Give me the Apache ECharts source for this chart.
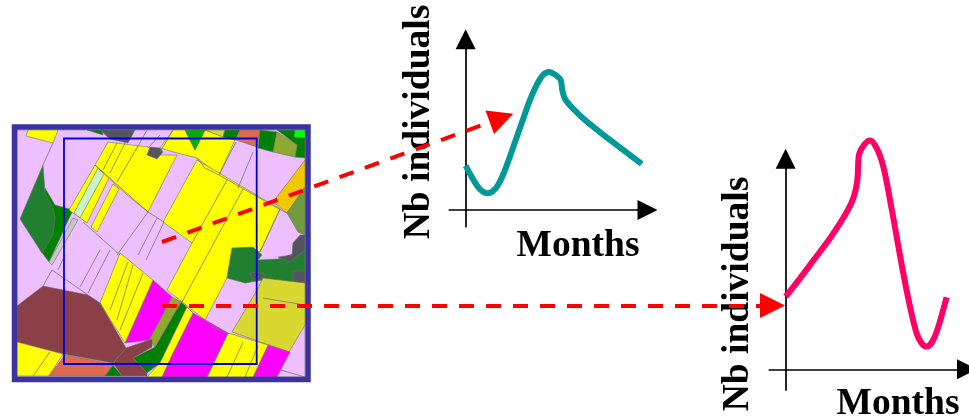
<!DOCTYPE html>
<html><head><meta charset="utf-8">
<style>html,body{margin:0;padding:0;background:#fff;overflow:hidden}#c{width:969px;height:419px}</style>
<script src="https://cdn.jsdelivr.net/npm/echarts@6/dist/echarts.min.js"></script>
</head><body><div id="c"></div>
<script>
// Chart curves: [month, individuals]
const tealCurve = [[0,26],[0.4,19.5],[0.84,13.3],[1.18,10.5],[1.44,9.8],[1.8,10.9],[2.18,15],[2.62,23.4],[3.18,37.1],[3.73,50.8],[4.29,64.5],[4.73,73.2],[5.18,79.3],[5.56,80.9],[5.96,79.3],[6.33,76.2],[6.44,70.3],[6.62,65.2],[7.07,60.2],[8.07,51.8],[9.4,42.6],[11.73,27]];
const pinkCurve = [[0,42.6],[0.96,53.3],[1.96,65],[2.96,76.8],[3.96,90.4],[4.51,100.2],[4.78,110.9],[4.89,125.6],[5.22,131.4],[5.62,134],[6.07,129.5],[6.51,118.8],[6.96,99.2],[7.4,77.7],[7.84,56.3],[8.29,36.7],[8.73,21.1],[9.07,15.2],[9.4,13.3],[9.78,16.2],[10.18,25],[10.73,42.2]];
const yLabel = 'Nb individuals';
const xLabel = 'Months';

// Land-use map parcels, in map coordinates
const parcels = [
 ['#eebfff',[[17,130],[305,130],[305,377],[17,377]]],
 ['#ffff00',[[28,130],[58,130],[53,143],[26,136]]],
 ['#008000',[[87,130],[102,130],[103,135]]],
 ['#55555f',[[100,130],[135,130],[128,143],[110,139]]],
 ['#008000',[[45,188],[55,205],[73,210],[49,262],[40,250]]],
 ['#217f30',[[43,165],[45,192],[53,208],[55,218],[53,235],[42,253],[20,219]]],
 ['#c8c8c8',[[73,218],[78,220],[52,265],[49,262]]],
 ['#ffff00',[[95,165],[109,178],[87,223],[69,210]]],
 ['#c8f5c8',[[98,168],[104,174],[80,218],[74,213]]],
 ['#ffff00',[[113,184],[119,189],[97,232],[91,227]]],
 ['#ffff00',[[95,165],[108,142],[148,147],[160,155],[177,155],[148,212],[127,195]]],
 ['#ffff00',[[173,130],[185,130],[195,150],[205,130],[225,137],[235,140],[219,175],[197,158],[177,153],[160,148]]],
 ['#55555f',[[150,147],[160,148],[163,152],[157,159],[147,155]]],
 ['#00b000',[[185,130],[205,130],[195,150]]],
 ['#d8d830',[[205,130],[225,130],[223,137]]],
 ['#008000',[[225,130],[240,130],[235,140],[223,137]]],
 ['#e06a50',[[240,130],[260,130],[257,147],[236,140]]],
 ['#008000',[[260,130],[277,132],[273,152],[258,148]]],
 ['#008000',[[277,130],[295,130],[295,137],[305,138],[305,158],[295,157],[297,145]]],
 ['#8fa830',[[277,132],[297,145],[295,157],[273,152]]],
 ['#00ff00',[[295,130],[305,130],[305,138],[294,137]]],
 ['#ffff00',[[197,160],[280,209],[260,252],[232,250],[227,278],[205,320],[167,290],[192,243],[163,222]]],
 ['#f0c800',[[305,160],[305,187],[287,213],[273,202]]],
 ['#6f9a40',[[305,187],[305,235],[298,232],[287,213]]],
 ['#217f30',[[232,248],[253,247],[262,255],[258,260],[278,259],[305,250],[305,283],[263,280],[245,283],[227,278]]],
 ['#55555f',[[300,235],[305,235],[305,250],[290,262],[278,257],[292,255],[293,243]]],
 ['#55555f',[[250,273],[257,272],[265,275],[260,280],[252,278]]],
 ['#55555f',[[293,271],[305,271],[305,283],[293,283]]],
 ['#d8d830',[[263,278],[305,283],[305,325],[289,352],[232,332],[257,290]]],
 ['#ff00ff',[[290,352],[268,345],[253,377],[277,377]]],
 ['#ffff00',[[228,333],[268,345],[253,377],[207,377]]],
 ['#ff00ff',[[193,313],[228,333],[207,377],[162,377],[172,355]]],
 ['#008000',[[181,302],[187,307],[160,363],[147,373],[133,358],[155,347]]],
 ['#ffff00',[[187,307],[193,313],[172,355],[162,377],[147,377],[160,363]]],
 ['#8fa830',[[172,297],[181,302],[155,347],[149,340]]],
 ['#ff00ff',[[153,280],[172,297],[149,340],[125,343]]],
 ['#ffff00',[[120,253],[153,280],[125,343],[100,303]]],
 ['#8b3f46',[[17,306],[43,286],[88,295],[100,303],[126,348],[113,363],[63,354],[17,342]]],
 ['#ffff00',[[17,342],[63,354],[49,376],[17,376]]],
 ['#e06a50',[[65,355],[113,364],[105,376],[49,376]]],
 ['#008000',[[113,365],[122,376],[105,376]]],
 ['#8b3f46',[[126,348],[152,339],[152,347],[133,358],[147,373],[147,376],[122,376],[113,363]]]
];
// Field boundaries drawn as thin lines
const fieldLines = [
 [[43,165],[53,143]],[[83,222],[120,255]],[[52,270],[88,295]],[[52,270],[43,286]],
 [[148,212],[117,255]],[[157,218],[138,255]],[[164,222],[146,260]],[[100,250],[80,287]],[[110,250],[88,293]],
 [[65,255],[58,270]],[[117,143],[103,170]],[[125,143],[110,173]],[[138,146],[117,182]],[[147,130],[138,146]],
 [[160,135],[149,147]],[[173,130],[160,152]],[[197,158],[205,168],[219,175]],[[227,180],[192,243]],[[243,189],[182,302]],
 [[236,142],[219,175]],[[253,152],[238,188]],[[219,175],[279,209]],[[128,262],[110,310]],[[133,265],[117,320]],[[143,273],[120,330]],
 [[50,352],[33,376]],[[207,325],[228,333]],[[263,298],[305,305]],[[228,333],[207,377]],[[243,342],[227,377]],[[258,346],[245,377]],
 [[279,209],[287,213]],[[280,209],[260,252]],[[277,369],[305,377]],[[95,165],[148,212]],[[148,212],[164,222]]
];
const mapFrame = [[14.5,127],[308,127],[308,379.5],[14.5,379.5]];
const studyArea = [[64,138.5],[256.7,138.5],[256.7,364],[64,364]];
// Links from sampled map locations to their curves
const links = [
 [[162,242],[501.5,118]],
 [[162,305.5],[772.5,305.5]]
];

const chart = echarts.init(document.getElementById('c'), null, {renderer:'canvas'});
const arrowAxis = {
  show:true,
  axisTick:{show:false},axisLabel:{show:false},splitLine:{show:false},
  axisLine:{show:true,onZero:true,symbol:['none','triangle'],symbolSize:[20,20],lineStyle:{color:'#000',width:1.7}}
};
const serif = '"Liberation Serif","Times New Roman",serif';
function label(text,x,y,rot){
  return {type:'text',x:x,y:y,rotation:rot,z:5,style:{text:text,font:'bold 37.5px '+serif,fill:'#000',align:'center',verticalAlign:'middle'}};
}
chart.setOption({
  animation:false,
  backgroundColor:'#fff',
  grid:[
    {left:449.3,top:39.3,width:198.2,height:187.4},
    {left:769.3,top:158.8,width:197.7,height:231.2},
    {left:0,top:0,width:969,height:419}
  ],
  xAxis:[
    Object.assign({type:'value',gridIndex:0,min:-1.09,max:12.12},arrowAxis),
    Object.assign({type:'value',gridIndex:1,min:-1.09,max:12.09},arrowAxis),
    {type:'value',gridIndex:2,min:0,max:969,show:false}
  ],
  yAxis:[
    Object.assign({type:'value',gridIndex:0,min:-9.78,max:100},arrowAxis),
    Object.assign({type:'value',gridIndex:1,min:-12.13,max:123.3},arrowAxis),
    {type:'value',gridIndex:2,min:0,max:419,inverse:true,show:false}
  ],
  graphic:[
    label(yLabel,419,122,Math.PI/2),
    label(xLabel,578,246,0),
    label(yLabel,738,294,Math.PI/2),
    label(xLabel,898,404,0)
  ],
  series:[
    {type:'custom',name:'parcels',xAxisIndex:2,yAxisIndex:2,z:1,clip:false,silent:true,
     data:parcels.map((p,i)=>[i]),
     renderItem:(params,api)=>{
       const p=parcels[api.value(0)];
       return {type:'polygon',shape:{points:p[1].map(c=>api.coord(c))},style:{fill:p[0],stroke:'#6f6f6f',lineWidth:0.6}};
     }},
    {type:'custom',name:'fields',xAxisIndex:2,yAxisIndex:2,z:2,clip:false,silent:true,
     data:fieldLines.map((p,i)=>[i]),
     renderItem:(params,api)=>({type:'polyline',shape:{points:fieldLines[api.value(0)].map(c=>api.coord(c))},style:{fill:null,stroke:'#777777',lineWidth:0.8}})},
    {type:'custom',name:'frames',xAxisIndex:2,yAxisIndex:2,z:3,clip:false,silent:true,
     data:[[0],[1]],
     renderItem:(params,api)=>{
       const i=api.value(0),pts=(i?studyArea:mapFrame).map(c=>api.coord(c));
       return {type:'polygon',shape:{points:pts},style:{fill:null,stroke:i?'#0000dd':'#3a34a0',lineWidth:i?1.8:5.5}};
     }},
    {type:'line',name:'Site A',xAxisIndex:0,yAxisIndex:0,data:tealCurve,smooth:0.3,showSymbol:false,clip:false,z:4,
     lineStyle:{color:'#009999',width:6}},
    {type:'line',name:'Site B',xAxisIndex:1,yAxisIndex:1,data:pinkCurve,smooth:0.3,showSymbol:false,clip:false,z:4,
     lineStyle:{color:'#ff0066',width:6}},
    {type:'lines',name:'Links',coordinateSystem:'cartesian2d',xAxisIndex:2,yAxisIndex:2,z:10,silent:true,
     symbol:['none','triangle'],symbolSize:25,
     lineStyle:{color:'#ff0000',width:4,type:[15,12],opacity:1},
     data:links.map(l=>({coords:l}))}
  ]
});
</script></body></html>
